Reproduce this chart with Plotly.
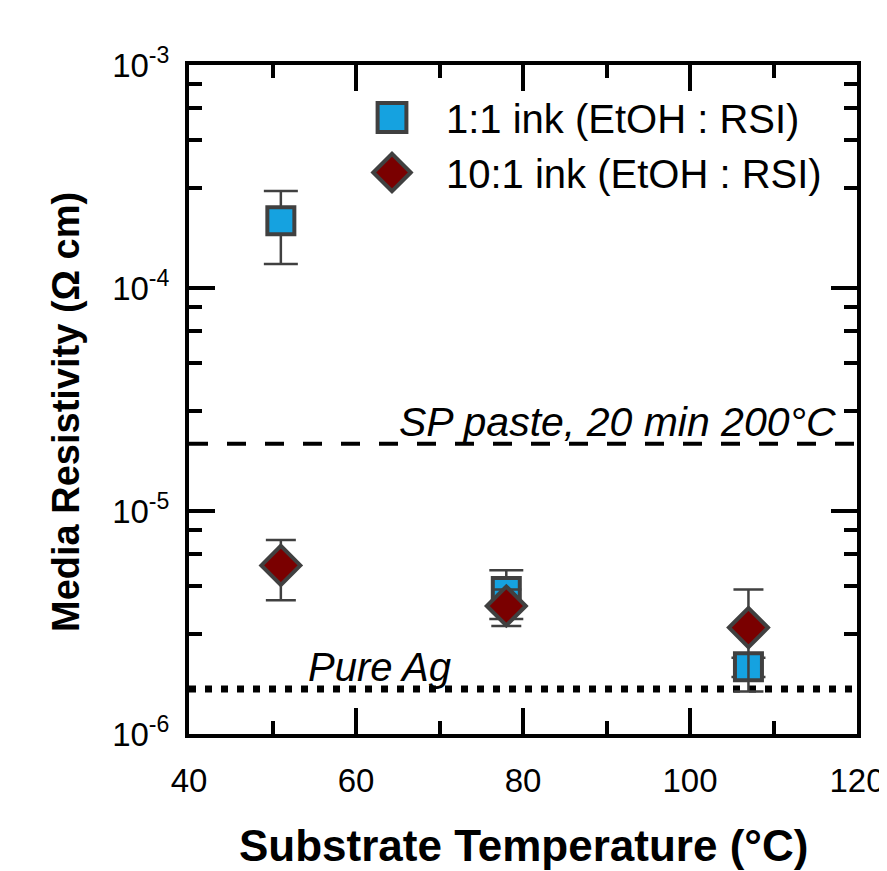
import plotly.graph_objects as go

# ---- data ----
temps = [51, 78, 107]
ink_1_1 = [2.0e-4, 4.35e-6, 2.0e-6]
ink_1_1_err = [0.72e-4, 1.07e-6, 0.2e-6]
ink_10_1 = [5.7e-6, 3.75e-6, 3.0e-6]
ink_10_1_err = [1.72e-6, 0.7e-6, 1.45e-6]
sp_paste = 2.0e-5
pure_ag = 1.59e-6
x_range = [40, 120]
x_major = [40, 60, 80, 100, 120]
x_minor = [50, 70, 90, 110]
y_major = [1e-6, 1e-5, 1e-4, 1e-3]
y_major_text = ["10<sup>-6</sup>", "10<sup>-5</sup>", "10<sup>-4</sup>", "10<sup>-3</sup>"]
y_minor_mult = [2.8, 4.6, 6.4, 8.2]
y_minor = [m * d for d in [1e-6, 1e-5, 1e-4] for m in y_minor_mult]

FONT = "Liberation Sans, Arial, sans-serif"
EDGE = "#404040"

fig = go.Figure()

fig.add_trace(go.Scatter(
    x=x_range, y=[sp_paste, sp_paste], mode="lines",
    line=dict(color="black", width=4, dash="19px,19px"),
    showlegend=False, hoverinfo="skip"))
fig.add_trace(go.Scatter(
    x=x_range, y=[pure_ag, pure_ag], mode="lines",
    line=dict(color="black", width=7, dash="7px,9px"),
    showlegend=False, hoverinfo="skip"))

fig.add_trace(go.Scatter(
    x=temps, y=ink_1_1, mode="markers", name="1:1 ink (EtOH : RSI)",
    marker=dict(symbol="square", size=27, color="#15a2e0",
                line=dict(color=EDGE, width=4)),
    error_y=dict(type="data", array=ink_1_1_err, visible=True,
                 color=EDGE, thickness=2.5, width=17)))
fig.add_trace(go.Scatter(
    x=temps, y=ink_10_1, mode="markers", name="10:1 ink (EtOH : RSI)",
    marker=dict(symbol="diamond", size=30, color="#7a0000",
                line=dict(color=EDGE, width=4)),
    error_y=dict(type="data", array=ink_10_1_err, visible=True,
                 color=EDGE, thickness=2.5, width=15)))

fig.add_annotation(x=117.7, y=-4.699, xref="x", yref="y",
                   text="<i>SP paste, 20 min 200°C</i>", showarrow=False,
                   xanchor="right", yanchor="middle", yshift=22,
                   font=dict(family=FONT, size=41, color="black"))
fig.add_annotation(x=54.0, y=-5.7986, xref="x", yref="y",
                   text="<i>Pure Ag</i>", showarrow=False,
                   xanchor="left", yanchor="middle", yshift=22,
                   font=dict(family=FONT, size=40, color="black"))

fig.add_annotation(x=(58 - 181) / 668, y=(726 - 404) / 669, xref="paper", yref="paper",
                   xanchor="center", yanchor="middle", showarrow=False,
                   text="<b>Media Resistivity (Ω cm)</b>", textangle=-90,
                   font=dict(family=FONT, size=38, color="black"))
fig.add_annotation(x=0.5, y=(726 - 837) / 669, xref="paper", yref="paper",
                   xanchor="center", yanchor="middle", showarrow=False,
                   text="<b>Substrate Temperature (°C)</b>",
                   font=dict(family=FONT, size=44, color="black"))

axis_common = dict(showline=True, linecolor="black", linewidth=4,
                   mirror="allticks", ticks="inside", tickcolor="black",
                   tickwidth=4, ticklen=26, showgrid=False, zeroline=False,
                   tickfont=dict(family=FONT, size=33, color="black"))

fig.update_xaxes(range=x_range, tickvals=x_major, ticktext=[str(v) for v in x_major],
                 minor=dict(tickvals=x_minor, ticks="inside", ticklen=13,
                            tickwidth=4, tickcolor="black", showgrid=False),
                 ticklabelstandoff=14, **axis_common)
fig.update_yaxes(type="log", range=[-6, -3], tickvals=y_major, ticktext=y_major_text,
                 minor=dict(tickvals=y_minor, ticks="inside", ticklen=13,
                            tickwidth=4, tickcolor="black", showgrid=False),
                 ticklabelstandoff=9, **axis_common)

fig.update_layout(
    width=887, height=871,
    margin=dict(l=181, r=38, t=57, b=145, autoexpand=False),
    paper_bgcolor="white", plot_bgcolor="white",
    font=dict(family=FONT, color="black"),
    legend=dict(x=(330 - 181) / 668, y=(726 - 77) / 669, xanchor="left", yanchor="top",
                bgcolor="rgba(0,0,0,0)", font=dict(family=FONT, size=40, color="black"),
                itemwidth=98, tracegroupgap=0),
)

# enlarge the legend keys to the size of the plotted markers
post_js = """
var gd = document.getElementById('{plot_id}');
function bigKeys(){
  gd.querySelectorAll('.legend .legendpoints path.scatterpts').forEach(function(p){
    var t = p.getAttribute('transform') || '';
    if (t.indexOf('scale') < 0) {
      p.setAttribute('transform', t + ' scale(1.8)');
      p.style.strokeWidth = (4 / 1.8) + 'px';
    }
  });
}
bigKeys();
if (gd.on) { gd.on('plotly_afterplot', bigKeys); }
setTimeout(bigKeys, 50);
setTimeout(bigKeys, 300);
"""

fig.write_html("out.html", post_script=post_js)
